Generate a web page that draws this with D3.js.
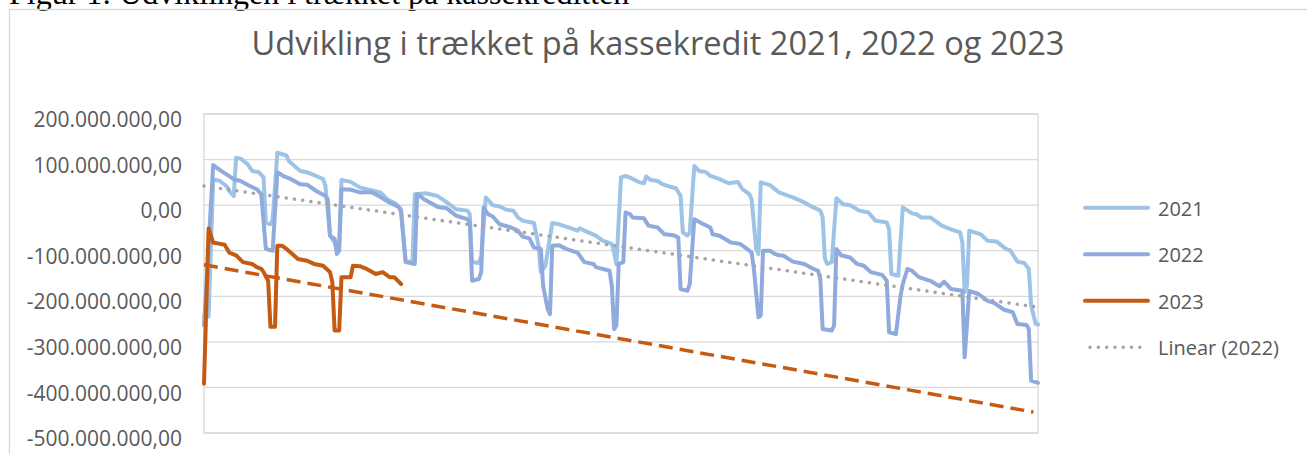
<!DOCTYPE html>
<html>
<head>
<meta charset="utf-8">
<script src="https://cdn.jsdelivr.net/npm/d3@7"></script>
<style>
  body { margin: 0; background: #fff; }
  .c-axis text { font-family: "Open Sans", sans-serif; font-size: 21px; fill: #595959; }
  .c-legend text { font-family: "Open Sans", sans-serif; font-size: 20px; fill: #595959; }
</style>
</head>
<body>
<div id="chart"></div>
<script>
// values in mio. kr., [day of year, value]
const seriesNames = ['2021', '2022', '2023'];
const trendName = 'Linear (2022)';
const yTicks = [-500, -400, -300, -200, -100, 0, 100, 200];

const series2021 = [
  [0,-245],[2,-245],[4,57],[7,53],[10,41],[11,31],[13,20],[14,104],[16,102],[19,90],[21,75],[24,72],[26,61],
  [27,-38],[29,-42],[30,-31],[32,115],[36,109],[37,97],[42,75],[45,72],[49,64],[52,57],[53,42],[55,-67],[57,-82],
  [58,-89],[59,-82],[60,55],[64,51],[68,39],[72,34],[77,28],[80,13],[84,2],[86,-9],[88,-123],[91,-124],[92,24],
  [97,26],[102,20],[106,6],[110,-9],[115,-12],[116,-20],[117,-125],[120,-127],[121,-111],[123,17],[126,0],[129,-3],
  [132,-10],[135,-12],[137,-27],[139,-34],[144,-39],[146,-89],[147,-147],[149,-133],[152,-39],[155,-42],[159,-49],
  [163,-56],[164,-51],[167,-58],[171,-67],[174,-78],[178,-85],[179,-104],[180,-130],[182,61],[184,64],[187,58],
  [190,50],[192,48],[193,63],[195,55],[198,53],[200,46],[203,41],[206,37],[208,20],[209,-60],[211,-67],[212,-60],
  [214,86],[216,75],[219,73],[221,64],[225,57],[229,48],[233,51],[235,35],[238,24],[239,13],[241,-96],[242,-107],
  [243,50],[247,44],[251,28],[253,24],[257,17],[262,6],[266,-5],[269,-12],[270,-27],[271,-118],[272,-129],
  [274,-125],[276,15],[279,2],[282,0],[286,-12],[290,-16],[293,-34],[298,-38],[299,-53],[300,-151],[303,-155],
  [305,-5],[309,-18],[311,-20],[313,-27],[317,-27],[322,-45],[326,-53],[330,-60],[331,-82],[332,-191],[333,-177],
  [334,-56],[339,-64],[342,-78],[346,-80],[350,-96],[352,-100],[355,-124],[358,-127],[360,-140],[361,-220],
  [363,-261],[364,-262]
];

const series2022 = [
  [0,-264],[4,88],[7,77],[13,57],[16,53],[20,42],[23,35],[25,24],[27,-96],[30,-100],[32,72],[35,63],[38,57],
  [42,46],[45,45],[49,31],[53,20],[54,13],[55,-67],[57,-74],[58,-107],[59,-100],[60,35],[64,34],[68,28],[73,29],
  [77,18],[81,6],[85,-4],[86,-15],[88,-125],[92,-129],[93,24],[96,13],[100,2],[102,-4],[106,-7],[110,-23],
  [115,-31],[116,-38],[117,-166],[120,-162],[121,-147],[122,-5],[124,-20],[126,-25],[129,-42],[134,-49],
  [137,-56],[139,-69],[142,-73],[144,-93],[147,-96],[148,-177],[150,-228],[151,-239],[152,-89],[155,-88],
  [158,-96],[163,-104],[166,-125],[170,-129],[171,-136],[177,-144],[178,-177],[179,-272],[180,-264],[181,-129],
  [183,-125],[184,-16],[186,-20],[187,-27],[192,-29],[194,-45],[198,-49],[201,-64],[205,-66],[207,-71],
  [208,-184],[211,-188],[212,-173],[214,-31],[217,-39],[221,-49],[222,-64],[225,-67],[230,-82],[234,-85],
  [237,-96],[239,-104],[240,-140],[242,-246],[243,-242],[244,-100],[247,-100],[249,-107],[251,-110],[253,-111],
  [257,-124],[262,-129],[266,-140],[268,-144],[269,-162],[270,-272],[274,-275],[275,-264],[276,-96],[278,-110],
  [282,-115],[285,-129],[288,-133],[291,-147],[296,-153],[298,-166],[299,-279],[302,-283],[304,-199],[305,-173],
  [307,-140],[309,-144],[312,-158],[317,-166],[321,-178],[323,-168],[326,-184],[331,-188],[332,-334],[334,-188],
  [338,-195],[342,-210],[345,-215],[349,-229],[353,-235],[355,-261],[359,-263],[360,-272],[361,-385],[364,-390]
];

const series2023 = [
  [0,-392],[2,-51],[4,-82],[7,-85],[9,-87],[11,-104],[14,-110],[17,-125],[21,-129],[23,-136],[25,-140],
  [26,-147],[28,-166],[29,-267],[31,-267],[32,-89],[34,-89],[36,-96],[41,-118],[45,-122],[48,-129],[52,-133],
  [55,-147],[56,-169],[57,-275],[59,-275],[60,-158],[64,-158],[65,-133],[68,-134],[71,-140],[75,-151],
  [78,-147],[81,-158],[83,-158],[86,-173]
];

// trendline end points
const trend2022 = [[0,42],[364,-224]];
const trend2023 = [[0,-131],[362,-454]];

class KassekreditChart {
  constructor(target) {
    this.container = d3.select(target);
    this.width = 1307;
    this.height = 454;
    this.plot = { left: 204, right: 1038, top: 114, bottom: 433 };
    this.colors = { '2021': '#9dc3e6', '2022': '#8faadc', '2023': '#c55a11' };
  }

  render() {
    this.createSvg();
    this.initScales();
    this.drawFrame();
    this.drawAxes();
    this.drawLines();
    this.drawTrends();
    this.drawLegend();
  }

  createSvg() {
    this.svg = this.container.append('svg')
      .attr('width', this.width)
      .attr('height', this.height);
    this.svg.append('rect').attr('width', this.width).attr('height', this.height).attr('fill', '#fff');
  }

  initScales() {
    this.x = d3.scaleLinear().domain([0, 364]).range([this.plot.left, this.plot.right]);
    this.y = d3.scaleLinear().domain([-500e6, 200e6]).range([this.plot.bottom, this.plot.top]);
    this.line = d3.line()
      .x(d => this.x(d[0]))
      .y(d => this.y(d[1] * 1e6));
  }

  drawFrame() {
    // caption of the document above the chart (cut off at the top, as in the source)
    this.svg.append('text')
      .attr('x', 9)
      .attr('y', 3.5)
      .attr('font-family', '"Liberation Serif", "Times New Roman", serif')
      .attr('font-size', 32)
      .attr('fill', '#000')
      .text('Figur 1: Udviklingen i trækket på kassekreditten');

    this.svg.append('path')
      .attr('d', `M9.5,${this.height} V9.5 H${this.width}`)
      .attr('fill', 'none')
      .attr('stroke', '#d9d9d9')
      .attr('stroke-width', 1.3);

    this.svg.append('text')
      .attr('x', 658)
      .attr('y', 55)
      .attr('text-anchor', 'middle')
      .attr('font-family', '"Open Sans", sans-serif')
      .attr('font-size', 32.6)
      .attr('fill', '#595959')
      .text('Udvikling i trækket på kassekredit 2021, 2022 og 2023');
  }

  drawAxes() {
    const locale = d3.formatLocale({ decimal: ',', thousands: '.', grouping: [3], currency: ['', ''], minus: '-' });
    const fmt = locale.format(',.2f');

    // gridlines
    this.svg.append('g')
      .attr('class', 'c-grid')
      .selectAll('line')
      .data(yTicks)
      .enter()
      .append('line')
      .attr('x1', this.plot.left)
      .attr('x2', this.plot.right)
      .attr('y1', d => this.y(d * 1e6))
      .attr('y2', d => this.y(d * 1e6))
      .attr('stroke', '#d9d9d9')
      .attr('stroke-width', 1.3);

    this.svg.append('rect')
      .attr('x', this.plot.left)
      .attr('y', this.plot.top)
      .attr('width', this.plot.right - this.plot.left)
      .attr('height', this.plot.bottom - this.plot.top)
      .attr('fill', 'none')
      .attr('stroke', '#d9d9d9')
      .attr('stroke-width', 1.3);

    const yAxis = d3.axisLeft(this.y)
      .tickValues(yTicks.map(d => d * 1e6))
      .tickFormat(fmt)
      .tickSize(0)
      .tickPadding(22);

    const g = this.svg.append('g')
      .attr('class', 'c-axis')
      .attr('transform', `translate(${this.plot.left}, 0)`)
      .call(yAxis);
    g.select('.domain').remove();
    g.selectAll('text').attr('dy', '0.6em').attr('font-family', null).attr('font-size', null);
  }

  drawLines() {
    const data = { '2021': series2021, '2022': series2022, '2023': series2023 };
    seriesNames.forEach(name => {
      this.svg.append('path')
        .attr('class', 'c-line')
        .attr('d', this.line(data[name]))
        .attr('fill', 'none')
        .attr('stroke', this.colors[name])
        .attr('stroke-width', 4)
        .attr('stroke-linejoin', 'round')
        .attr('stroke-linecap', 'round');
    });
  }

  drawTrends() {
    this.svg.append('path')
      .attr('d', this.line(trend2023))
      .attr('fill', 'none')
      .attr('stroke', this.colors['2023'])
      .attr('stroke-width', 3.5)
      .style('stroke-dasharray', '14, 7');

    this.svg.append('path')
      .attr('d', this.line(trend2022))
      .attr('fill', 'none')
      .attr('stroke', '#a5a5a5')
      .attr('stroke-width', 3.5)
      .attr('stroke-linecap', 'round')
      .style('stroke-dasharray', '0.1, 8.2');
  }

  drawLegend() {
    const items = seriesNames.concat([trendName]);
    const rowY = d3.scalePoint().domain(items).range([207.7, 347.3]);
    const legend = this.svg.append('g').attr('class', 'c-legend');

    items.forEach(name => {
      const yPos = rowY(name);
      const isTrend = name === trendName;
      legend.append('line')
        .attr('x1', isTrend ? 1090 : 1085)
        .attr('x2', isTrend ? 1143 : 1148)
        .attr('y1', yPos)
        .attr('y2', yPos)
        .attr('stroke', isTrend ? '#a5a5a5' : this.colors[name])
        .attr('stroke-width', isTrend ? 3.5 : 4)
        .attr('stroke-linecap', 'round')
        .style('stroke-dasharray', isTrend ? '0.1, 8.2' : null);
      legend.append('text')
        .attr('x', 1158)
        .attr('y', yPos + 8)
        .text(name);
    });
  }
}

new KassekreditChart('#chart').render();
</script>
</body>
</html>
